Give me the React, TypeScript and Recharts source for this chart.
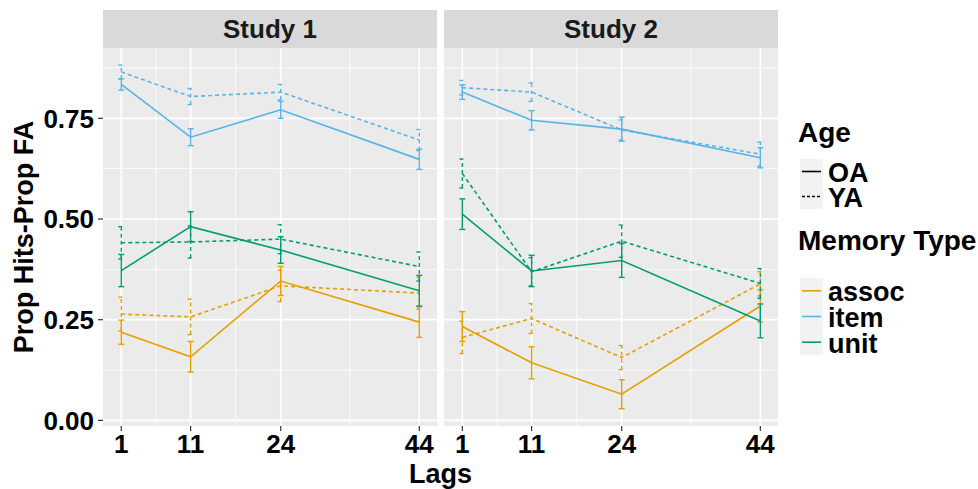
import React from 'react'
import { LineChart, Line, XAxis, YAxis, CartesianGrid, ErrorBar } from 'recharts'

const lags = [1, 11, 24, 44]
const minorLags = [6, 17.5, 34]
const yTicks = [0, 0.25, 0.5, 0.75]
const minorY = [0.125, 0.375, 0.625, 0.875]
const studies = ['Study 1', 'Study 2']
const memoryTypes = ['assoc', 'item', 'unit']
const ages = ['OA', 'YA']

// Study 1 means / standard errors, in lag order
const s1AssocOA = [0.219, 0.158, 0.346, 0.244]
const s1AssocOAse = [0.03, 0.038, 0.036, 0.038]
const s1AssocYA = [0.264, 0.257, 0.334, 0.316]
const s1AssocYAse = [0.042, 0.044, 0.039, 0.04]
const s1ItemOA = [0.834, 0.703, 0.771, 0.648]
const s1ItemOAse = [0.014, 0.021, 0.021, 0.025]
const s1ItemYA = [0.865, 0.804, 0.815, 0.696]
const s1ItemYAse = [0.017, 0.02, 0.019, 0.026]
const s1UnitOA = [0.372, 0.481, 0.423, 0.322]
const s1UnitOAse = [0.04, 0.037, 0.033, 0.038]
const s1UnitYA = [0.441, 0.443, 0.45, 0.382]
const s1UnitYAse = [0.04, 0.04, 0.036, 0.036]

// Study 2
const s2AssocOA = [0.233, 0.143, 0.065, 0.284]
const s2AssocOAse = [0.037, 0.04, 0.036, 0.04]
const s2AssocYA = [0.206, 0.253, 0.156, 0.339]
const s2AssocYAse = [0.04, 0.037, 0.03, 0.03]
const s2ItemOA = [0.815, 0.745, 0.723, 0.652]
const s2ItemOAse = [0.018, 0.024, 0.03, 0.025]
const s2ItemYA = [0.826, 0.815, 0.721, 0.661]
const s2ItemYAse = [0.018, 0.023, 0.025, 0.03]
const s2UnitOA = [0.512, 0.371, 0.397, 0.247]
const s2UnitOAse = [0.038, 0.039, 0.042, 0.042]
const s2UnitYA = [0.613, 0.369, 0.445, 0.34]
const s2UnitYAse = [0.036, 0.035, 0.04, 0.037]

const colors: Record<string, string> = { assoc: '#E69F00', item: '#56B4E9', unit: '#009E73' }
const DASH = '4 3'
const FONT = '"Liberation Sans", Arial, Helvetica, sans-serif'

type Series = { type: string; age: string; mean: number[]; se: number[] }

const study1: Series[] = [
  { type: 'assoc', age: 'OA', mean: s1AssocOA, se: s1AssocOAse },
  { type: 'assoc', age: 'YA', mean: s1AssocYA, se: s1AssocYAse },
  { type: 'item', age: 'OA', mean: s1ItemOA, se: s1ItemOAse },
  { type: 'item', age: 'YA', mean: s1ItemYA, se: s1ItemYAse },
  { type: 'unit', age: 'OA', mean: s1UnitOA, se: s1UnitOAse },
  { type: 'unit', age: 'YA', mean: s1UnitYA, se: s1UnitYAse },
]
const study2: Series[] = [
  { type: 'assoc', age: 'OA', mean: s2AssocOA, se: s2AssocOAse },
  { type: 'assoc', age: 'YA', mean: s2AssocYA, se: s2AssocYAse },
  { type: 'item', age: 'OA', mean: s2ItemOA, se: s2ItemOAse },
  { type: 'item', age: 'YA', mean: s2ItemYA, se: s2ItemYAse },
  { type: 'unit', age: 'OA', mean: s2UnitOA, se: s2UnitOAse },
  { type: 'unit', age: 'YA', mean: s2UnitYA, se: s2UnitYAse },
]

const PLOT_TOP = 48
const PLOT_H = 378
const PLOT_W = 334
const X_AXIS_H = 44
const Y_AXIS_W = 103
const X_DOMAIN: [number, number] = [-1.64, 46.55]
const Y_DOMAIN: [number, number] = [-0.0139, 0.9245]

function Panel({ series, showY }: { series: Series[]; showY: boolean }) {
  const w = PLOT_W + (showY ? Y_AXIS_W : 0)
  return (
    <LineChart width={w} height={PLOT_H + X_AXIS_H} margin={{ top: 0, right: 0, bottom: 0, left: 0 }}>
      <CartesianGrid
        fill="#EBEBEB"
        stroke="#FFFFFF"
        strokeWidth={0.8}
        horizontalValues={minorY}
        verticalValues={minorLags}
      />
      <CartesianGrid stroke="#FFFFFF" strokeWidth={1.7} horizontalValues={yTicks} verticalValues={lags} />
      <XAxis
        type="number"
        dataKey="lag"
        domain={X_DOMAIN}
        ticks={lags}
        interval={0}
        allowDataOverflow
        height={X_AXIS_H}
        axisLine={false}
        tickSize={5}
        tickMargin={4}
        tickLine={{ stroke: '#333333', strokeWidth: 1.2 }}
        tick={{ fill: '#000000', fontSize: 26, fontWeight: 700, fontFamily: FONT }}
      />
      <YAxis
        type="number"
        domain={Y_DOMAIN}
        ticks={yTicks}
        interval={0}
        allowDataOverflow
        hide={!showY}
        width={Y_AXIS_W}
        axisLine={false}
        tickSize={5}
        tickMargin={4}
        tickLine={{ stroke: '#333333', strokeWidth: 1.2 }}
        tick={{ fill: '#000000', fontSize: 26, fontWeight: 700, fontFamily: FONT }}
        tickFormatter={(v: number) => v.toFixed(2)}
      />
      {series.map((s) => {
        const data = lags.map((lag, i) => ({ lag, v: s.mean[i], e: s.se[i] }))
        const dash = s.age === 'YA' ? DASH : undefined
        return (
          <Line
            key={s.type + s.age}
            data={data}
            dataKey="v"
            stroke={colors[s.type]}
            strokeWidth={1.6}
            strokeDasharray={dash}
            dot={false}
            activeDot={false}
            isAnimationActive={false}
          >
            <ErrorBar
              dataKey="e"
              direction="y"
              width={3}
              stroke={colors[s.type]}
              strokeWidth={1.4}
              strokeDasharray={dash}
              isAnimationActive={false}
            />
          </Line>
        )
      })}
    </LineChart>
  )
}

export default function App() {
  const panelLefts = [0, 444]
  const stripX = [Y_AXIS_W, 444]
  return (
    <div
      style={{
        position: 'absolute',
        left: 0,
        top: 0,
        width: 978,
        height: 489,
        background: '#FFFFFF',
        fontFamily: FONT,
        overflow: 'hidden',
      }}
    >
      <div style={{ position: 'absolute', left: panelLefts[0], top: PLOT_TOP }}>
        <Panel series={study1} showY />
      </div>
      <div style={{ position: 'absolute', left: panelLefts[1], top: PLOT_TOP }}>
        <Panel series={study2} showY={false} />
      </div>
      <svg
        width={978}
        height={489}
        style={{ position: 'absolute', left: 0, top: 0, pointerEvents: 'none' }}
        fontFamily={FONT}
        fontWeight={700}
      >
        {studies.map((label, i) => (
          <g key={label}>
            <rect x={stripX[i]} y={10} width={PLOT_W} height={PLOT_TOP - 10} fill="#D9D9D9" />
            <text x={stripX[i] + PLOT_W / 2} y={38} textAnchor="middle" fontSize={26} fill="#1A1A1A">
              {label}
            </text>
          </g>
        ))}
        <text transform="translate(33, 237) rotate(-90)" textAnchor="middle" fontSize={27} fill="#000000">
          Prop Hits-Prop FA
        </text>
        <text x={440.5} y={483} textAnchor="middle" fontSize={27} fill="#000000">
          Lags
        </text>

        <text x={798} y={142} fontSize={28} fill="#000000">Age</text>
        <rect x={800} y={159} width={23} height={50} fill="#F2F2F2" />
        {ages.map((a, i) => {
          const cy = 171.5 + i * 25
          return (
            <g key={a}>
              <line
                x1={802}
                x2={821}
                y1={cy}
                y2={cy}
                stroke="#000000"
                strokeWidth={1.6}
                strokeDasharray={a === 'YA' ? '3 2' : undefined}
              />
              <text x={828} y={cy + 10.5} fontSize={27} fill="#000000">{a}</text>
            </g>
          )
        })}

        <text x={798} y={250} fontSize={28} fill="#000000">Memory Type</text>
        <rect x={800} y={278} width={23} height={77} fill="#F2F2F2" />
        {memoryTypes.map((m, i) => {
          const cy = 290.8 + i * 25.7
          return (
            <g key={m}>
              <line x1={802} x2={821} y1={cy} y2={cy} stroke={colors[m]} strokeWidth={1.6} />
              <text x={828} y={cy + 10.5} fontSize={27} fill="#000000">{m}</text>
            </g>
          )
        })}
      </svg>
    </div>
  )
}
